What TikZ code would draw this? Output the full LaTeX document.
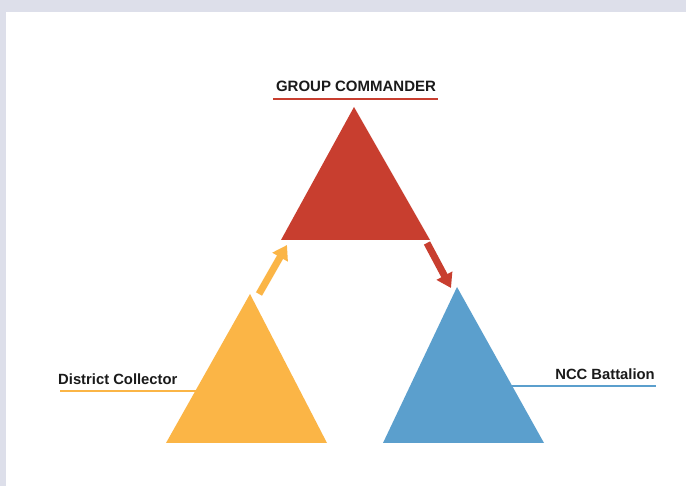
\documentclass[tikz,border=0pt]{standalone}
\usepackage{fontspec}
\setmainfont{Liberation Sans}
\usetikzlibrary{arrows.meta}
\definecolor{cred}{HTML}{C83E2F}
\definecolor{cyel}{HTML}{FBB546}
\definecolor{cblue}{HTML}{5B9FCD}
\definecolor{cframe}{HTML}{DDDFEA}
\definecolor{ctext}{HTML}{1A1A1A}
\begin{document}
\begin{tikzpicture}[x=1pt,y=-1pt,
  lbl/.style={font=\bfseries\fontsize{14.8}{16}\selectfont, text=ctext, inner sep=0pt},
  uline/.style={line width=1.4pt},
  bigarrow/.style={line width=7pt, -{Triangle[width=17pt,length=14pt]}}]
\useasboundingbox (0,0) rectangle (686,486);
\fill[cframe] (0,0) rectangle (686,486);
\fill[white] (6,12) rectangle (686,486);
% triangles
\coordinate (rA) at (354,107); \coordinate (rL) at (281,240); \coordinate (rR) at (430,240);
\coordinate (yA) at (250,294); \coordinate (yL) at (166,443); \coordinate (yR) at (327,443);
\coordinate (bA) at (457,287); \coordinate (bL) at (383,443); \coordinate (bR) at (544,443);
\fill[cred] (rA) -- (rL) -- (rR) -- cycle;
\fill[cyel] (yA) -- (yL) -- (yR) -- cycle;
\fill[cblue] (bA) -- (bL) -- (bR) -- cycle;
% arrows
\coordinate (y1) at (259,294); \coordinate (y2) at (287,245);
\coordinate (r1) at (427,243); \coordinate (r2) at (451,288);
\draw[cyel, bigarrow] (y1) -- (y2);
\draw[cred, bigarrow] (r1) -- (r2);
% labels
\node[lbl, font=\bfseries\fontsize{15}{17}\selectfont] (gc) at (356,86) {GROUP COMMANDER};
\coordinate (gcL) at (273,99); \coordinate (gcR) at (438,99);
\draw[cred, uline] (gcL) -- (gcR);
\node[lbl, anchor=west] (dc) at (58,379) {District Collector};
\coordinate (dcL) at (60,391); \coordinate (dcR) at (196,391);
\draw[cyel, uline] (dcL) -- (dcR);
\node[lbl, anchor=east] (ncc) at (655,374) {NCC Battalion};
\coordinate (nL) at (512,386); \coordinate (nR) at (656,386);
\draw[cblue, uline] (nL) -- (nR);
\end{tikzpicture}
\end{document}
